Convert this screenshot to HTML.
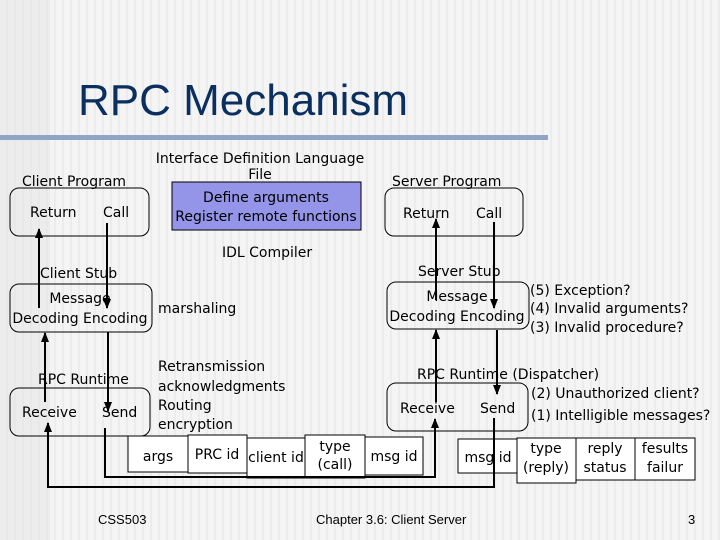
<!DOCTYPE html>
<html><head><meta charset="utf-8"><style>
html,body{margin:0;padding:0}
body{width:720px;height:540px;overflow:hidden;background:repeating-linear-gradient(90deg,#f4f4f4 0,#f4f4f4 6px,#ececec 6px,#ececec 8px);}
svg{position:absolute;left:0;top:0}
text{font-family:"DejaVu Sans","Liberation Sans",sans-serif;font-size:14px;fill:#000}
</style></head><body>
<svg width="720" height="540" viewBox="0 0 720 540">
<defs>
<marker id="a" markerWidth="10" markerHeight="10" refX="9" refY="5" orient="auto" markerUnits="userSpaceOnUse" viewBox="0 0 10 10"><path d="M0,1 L10,5 L0,9z" fill="#000"/></marker>
</defs>
<rect x="0" y="0" width="50" height="540" fill="#e4e4e4" opacity="0.5"/>
<text x="78" y="115" style="font-family:'Liberation Sans',sans-serif;font-size:44px;fill:#0b2f5e">RPC Mechanism</text>
<rect x="0" y="135" width="548" height="5" fill="#8fa5c4"/>

<g fill="none" stroke="#000" stroke-width="1">
<rect x="10" y="188" width="139" height="48" rx="9"/>
<rect x="10" y="284" width="142" height="48" rx="9"/>
<rect x="10" y="388" width="140" height="48" rx="9"/>
<rect x="385" y="188" width="138" height="48" rx="9"/>
<rect x="387" y="282" width="142" height="47" rx="9"/>
<rect x="387" y="383" width="141" height="48" rx="9"/>
</g>
<rect x="172" y="182" width="189" height="48" fill="#9494e8" stroke="#000"/>

<g fill="#fff" stroke="#000">
<rect x="128" y="436" width="60" height="36"/>
<rect x="188" y="435" width="59" height="38"/>
<rect x="247" y="438" width="58" height="40"/>
<rect x="305" y="435" width="60" height="43"/>
<rect x="365" y="437" width="58" height="38"/>
<rect x="458" y="439" width="60" height="34"/>
<rect x="517" y="438" width="59" height="45"/>
<rect x="576" y="438" width="59" height="42"/>
<rect x="635" y="438" width="60" height="42"/>
</g>

<g stroke="#000" stroke-width="2" fill="none">
<line x1="39" y1="308" x2="39" y2="229" marker-end="url(#a)"/>
<line x1="107" y1="223" x2="107" y2="308" marker-end="url(#a)"/>
<line x1="45" y1="402" x2="45" y2="333" marker-end="url(#a)"/>
<line x1="108" y1="332" x2="108" y2="411" marker-end="url(#a)"/>
<line x1="436" y1="300" x2="436" y2="219" marker-end="url(#a)"/>
<line x1="494" y1="222" x2="494" y2="308" marker-end="url(#a)"/>
<line x1="436" y1="402" x2="436" y2="330" marker-end="url(#a)"/>
<line x1="497" y1="330" x2="497" y2="394" marker-end="url(#a)"/>
<polyline points="105,428 105,477 435,477 435,419" marker-end="url(#a)"/>
<polyline points="494,418 494,487 48,487 48,423" marker-end="url(#a)"/>
</g>

<text x="22" y="186">Client Program</text>
<text x="30" y="217">Return</text>
<text x="103" y="217">Call</text>
<text x="260" y="163" text-anchor="middle">Interface Definition Language</text>
<text x="260" y="179" text-anchor="middle">File</text>
<text x="266" y="202" text-anchor="middle">Define arguments</text>
<text x="266" y="221" text-anchor="middle">Register remote functions</text>
<text x="222" y="257">IDL Compiler</text>
<text x="40" y="278">Client Stub</text>
<text x="80" y="303" text-anchor="middle">Message</text>
<text x="80" y="323" text-anchor="middle">Decoding Encoding</text>
<text x="158" y="313">marshaling</text>
<text x="38" y="384">RPC Runtime</text>
<text x="22" y="417">Receive</text>
<text x="102" y="417">Send</text>
<text x="158" y="371">Retransmission</text>
<text x="158" y="391">acknowledgments</text>
<text x="158" y="410">Routing</text>
<text x="158" y="429">encryption</text>
<text x="158" y="461" text-anchor="middle">args</text>
<text x="217" y="459" text-anchor="middle">PRC id</text>
<text x="276" y="462" text-anchor="middle">client id</text>
<text x="335" y="451" text-anchor="middle">type</text>
<text x="335" y="469" text-anchor="middle">(call)</text>
<text x="394" y="461" text-anchor="middle">msg id</text>

<text x="392" y="186">Server Program</text>
<text x="403" y="218">Return</text>
<text x="476" y="218">Call</text>
<text x="418" y="276">Server Stub</text>
<text x="457" y="301" text-anchor="middle">Message</text>
<text x="457" y="321" text-anchor="middle">Decoding Encoding</text>
<text x="530" y="295">(5) Exception?</text>
<text x="530" y="313">(4) Invalid arguments?</text>
<text x="530" y="332">(3) Invalid procedure?</text>
<text x="417" y="379">RPC Runtime  (Dispatcher)</text>
<text x="400" y="413">Receive</text>
<text x="480" y="413">Send</text>
<text x="531" y="398">(2) Unauthorized client?</text>
<text x="531" y="420">(1) Intelligible messages?</text>
<text x="488" y="462" text-anchor="middle">msg id</text>
<text x="546" y="453" text-anchor="middle">type</text>
<text x="546" y="472" text-anchor="middle">(reply)</text>
<text x="605" y="453" text-anchor="middle">reply</text>
<text x="605" y="472" text-anchor="middle">status</text>
<text x="665" y="453" text-anchor="middle">fesults</text>
<text x="665" y="472" text-anchor="middle">failur</text>

<text x="98" y="524" style="font-family:'Liberation Sans',sans-serif;font-size:13px">CSS503</text>
<text x="316" y="524" style="font-family:'Liberation Sans',sans-serif;font-size:13px">Chapter 3.6: Client Server</text>
<text x="688" y="524" style="font-family:'Liberation Sans',sans-serif;font-size:13px">3</text>
</svg>
</body></html>
